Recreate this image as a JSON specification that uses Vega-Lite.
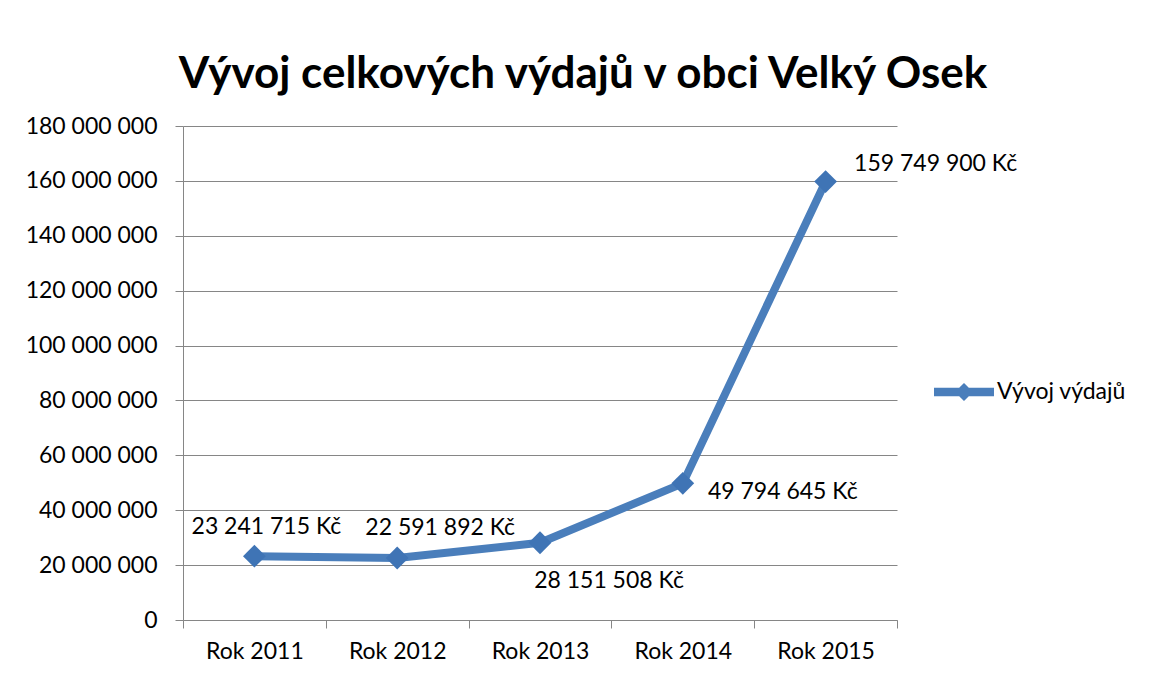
{
  "$schema": "https://vega.github.io/schema/vega-lite/v6.json",
  "width": 714,
  "height": 494,
  "autosize": {"type": "none"},
  "padding": {"left": 183, "top": 126, "right": 253, "bottom": 60},
  "background": "white",
  "config": {
    "locale": {"number": {"decimal": ",", "thousands": " ", "grouping": [3], "currency": ["", " Kč"]}},
    "font": "Lato",
    "view": {"stroke": null}
  },
  "title": {
    "text": "Vývoj celkových výdajů v obci Velký Osek",
    "font": "Lato",
    "fontSize": 44,
    "fontWeight": "bold",
    "color": "black",
    "anchor": "middle",
    "frame": "group",
    "baseline": "alphabetic",
    "offset": 38,
    "dx": 43,
    "dy": 55
  },
  "data": {
    "values": [
      {"year": "Rok 2011", "value": 23241715, "series": "Vývoj výdajů"},
      {"year": "Rok 2012", "value": 22591892, "series": "Vývoj výdajů"},
      {"year": "Rok 2013", "value": 28151508, "series": "Vývoj výdajů"},
      {"year": "Rok 2014", "value": 49794645, "series": "Vývoj výdajů"},
      {"year": "Rok 2015", "value": 159749900, "series": "Vývoj výdajů"}
    ]
  },
  "encoding": {
    "x": {
      "field": "year", "type": "ordinal", "title": null,
      "scale": {"type": "band", "paddingInner": 0, "paddingOuter": 0},
      "axis": {
        "labelAngle": 0, "labelFont": "Lato", "labelFontSize": 23, "labelColor": "black",
        "domainColor": "#868686", "tickColor": "#868686", "tickSize": 8,
        "tickBand": "extent", "labelPadding": 12, "grid": false
      }
    },
    "y": {
      "field": "value", "type": "quantitative", "title": null,
      "scale": {"domain": [0, 180000000], "nice": false},
      "axis": {
        "values": [0, 20000000, 40000000, 60000000, 80000000, 100000000, 120000000, 140000000, 160000000, 180000000],
        "format": ",d", "labelFont": "Lato", "labelFontSize": 23, "labelColor": "black",
        "domainColor": "#868686", "tickColor": "#868686", "tickSize": 8,
        "gridColor": "#868686", "gridWidth": 1, "labelPadding": 18
      }
    }
  },
  "layer": [
    {
      "mark": {"type": "line", "strokeWidth": 8, "strokeCap": "round", "strokeJoin": "round"},
      "encoding": {
        "color": {
          "field": "series", "type": "nominal",
          "scale": {"range": ["#4A7EBB"]},
          "legend": {
            "title": null, "orient": "none", "legendX": 751, "legendY": 236, "padding": 0,
            "symbolType": "M-1,-0.14L-0.16,-0.14L0,-0.3L0.16,-0.14L1,-0.14L1,0.14L0.16,0.14L0,0.3L-0.16,0.14L-1,0.14Z",
            "symbolSize": 3600, "symbolFillColor": "#4A7EBB", "symbolStrokeWidth": 0,
            "labelFont": "Lato", "labelFontSize": 23, "labelColor": "black", "labelOffset": 3
          }
        }
      }
    },
    {
      "mark": {"type": "point", "shape": "diamond", "filled": true, "size": 520, "color": "#3F74B5", "opacity": 1}
    },
    {
      "transform": [{"filter": "datum.year == 'Rok 2011'"}],
      "mark": {"type": "text", "fontSize": 23, "font": "Lato", "color": "black", "align": "center", "baseline": "middle", "dx": 12, "dy": -29},
      "encoding": {"text": {"field": "value", "type": "quantitative", "format": "$,d"}}
    },
    {
      "transform": [{"filter": "datum.year == 'Rok 2012'"}],
      "mark": {"type": "text", "fontSize": 23, "font": "Lato", "color": "black", "align": "center", "baseline": "middle", "dx": 43, "dy": -30},
      "encoding": {"text": {"field": "value", "type": "quantitative", "format": "$,d"}}
    },
    {
      "transform": [{"filter": "datum.year == 'Rok 2013'"}],
      "mark": {"type": "text", "fontSize": 23, "font": "Lato", "color": "black", "align": "center", "baseline": "middle", "dx": 69, "dy": 38},
      "encoding": {"text": {"field": "value", "type": "quantitative", "format": "$,d"}}
    },
    {
      "transform": [{"filter": "datum.year == 'Rok 2014'"}],
      "mark": {"type": "text", "fontSize": 23, "font": "Lato", "color": "black", "align": "center", "baseline": "middle", "dx": 100, "dy": 9},
      "encoding": {"text": {"field": "value", "type": "quantitative", "format": "$,d"}}
    },
    {
      "transform": [{"filter": "datum.year == 'Rok 2015'"}],
      "mark": {"type": "text", "fontSize": 23, "font": "Lato", "color": "black", "align": "center", "baseline": "middle", "dx": 110, "dy": -18},
      "encoding": {"text": {"field": "value", "type": "quantitative", "format": "$,d"}}
    }
  ]
}
